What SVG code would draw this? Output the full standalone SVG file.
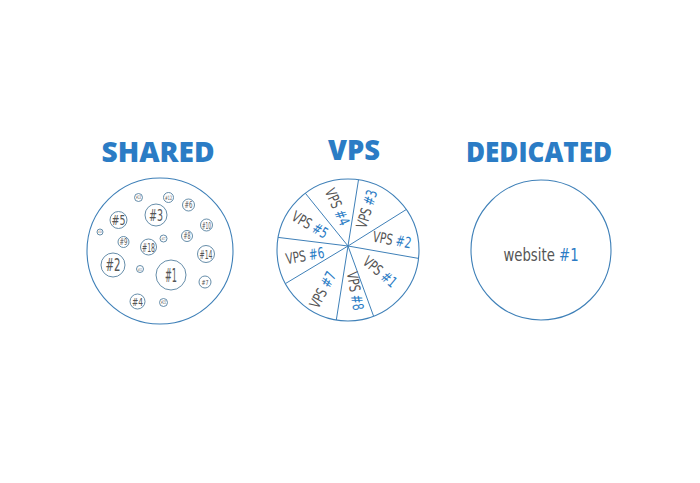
<svg xmlns="http://www.w3.org/2000/svg" width="700" height="483" viewBox="0 0 700 483">
<style>
.title{font-family:"Open Sans","DejaVu Sans",sans-serif;font-weight:800;font-size:28px;fill:#2b7cc5;text-anchor:middle}
.big{fill:none;stroke:#3f80b8;stroke-width:1.1}
.sm{fill:none;stroke:#55809f;stroke-width:0.9}
.hw{font-family:"DejaVu Sans Condensed","Liberation Sans Narrow","DejaVu Sans",sans-serif;fill:#555;text-anchor:middle}
.b{fill:#2b7cc5}
.spoke{stroke:#3f80b8;stroke-width:1}
</style>
<rect width="700" height="483" fill="#fff"/>

<g id="shared">
<text class="title" x="158" y="162" textLength="113" lengthAdjust="spacingAndGlyphs">SHARED</text>
<circle class="big" cx="160" cy="251" r="73"/>
<g class="hw">
<circle class="sm" cx="171" cy="275" r="15"/><text x="171" y="282" font-size="20" textLength="12" lengthAdjust="spacingAndGlyphs">#1</text>
<circle class="sm" cx="113" cy="265" r="12"/><text x="113" y="271" font-size="17" textLength="15" lengthAdjust="spacingAndGlyphs">#2</text>
<circle class="sm" cx="156" cy="215" r="11"/><text x="156" y="220.5" font-size="15" textLength="14" lengthAdjust="spacingAndGlyphs">#3</text>
<circle class="sm" cx="137.5" cy="301.5" r="7.5"/><text x="137.5" y="305.5" font-size="11" textLength="11" lengthAdjust="spacingAndGlyphs">#4</text>
<circle class="sm" cx="118.5" cy="220" r="8.5"/><text x="118.5" y="225" font-size="14" textLength="14" lengthAdjust="spacingAndGlyphs">#5</text>
<circle class="sm" cx="188.5" cy="205" r="6"/><text x="188.5" y="208" font-size="8" textLength="8" lengthAdjust="spacingAndGlyphs">#6</text>
<circle class="sm" cx="205" cy="282" r="6"/><text x="205" y="284.5" font-size="7" textLength="7" lengthAdjust="spacingAndGlyphs">#7</text>
<circle class="sm" cx="187" cy="236" r="5.5"/><text x="187" y="239" font-size="8" textLength="7" lengthAdjust="spacingAndGlyphs">#8</text>
<circle class="sm" cx="123.5" cy="242" r="5.5"/><text x="123.5" y="245" font-size="8" textLength="8" lengthAdjust="spacingAndGlyphs">#9</text>
<circle class="sm" cx="206.5" cy="225" r="6"/><text x="206.5" y="228.5" font-size="9" textLength="9" lengthAdjust="spacingAndGlyphs">#10</text>
<circle class="sm" cx="140" cy="269" r="3.5"/><text x="140" y="270.5" font-size="4" textLength="4" lengthAdjust="spacingAndGlyphs">#11</text>
<circle class="sm" cx="168.5" cy="197.5" r="5"/><text x="168.5" y="199.5" font-size="6" textLength="7" lengthAdjust="spacingAndGlyphs">#12</text>
<circle class="sm" cx="138.5" cy="197.5" r="4"/><text x="138.5" y="199.3" font-size="5" textLength="5" lengthAdjust="spacingAndGlyphs">#13</text>
<circle class="sm" cx="206" cy="254" r="8.5"/><text x="206" y="258.5" font-size="12" textLength="13" lengthAdjust="spacingAndGlyphs">#14</text>
<circle class="sm" cx="163.5" cy="302.5" r="4"/><text x="163.5" y="304.3" font-size="5" textLength="5" lengthAdjust="spacingAndGlyphs">#15</text>
<circle class="sm" cx="100" cy="232" r="3"/><text x="100" y="233.3" font-size="3.5" textLength="3.5" lengthAdjust="spacingAndGlyphs">#16</text>
<circle class="sm" cx="163.5" cy="238.5" r="3.5"/><text x="163.5" y="240" font-size="4" textLength="4" lengthAdjust="spacingAndGlyphs">#17</text>
<circle class="sm" cx="148.5" cy="247" r="8"/><text x="148.5" y="251.5" font-size="12" textLength="13" lengthAdjust="spacingAndGlyphs">#18</text>
</g>
</g>

<g id="vps">
<text class="title" x="354" y="160" textLength="52" lengthAdjust="spacingAndGlyphs">VPS</text>
<circle class="big" cx="348" cy="250" r="71"/>
<g class="spoke">
<line x1="348" y1="246" x2="358.5" y2="179.8"/>
<line x1="348" y1="246" x2="406.3" y2="209.5"/>
<line x1="348" y1="246" x2="418.5" y2="258.4"/>
<line x1="348" y1="246" x2="373.6" y2="316.2"/>
<line x1="348" y1="246" x2="336.3" y2="320"/>
<line x1="348" y1="246" x2="285.4" y2="283.6"/>
<line x1="348" y1="246" x2="278.1" y2="237.4"/>
<line x1="348" y1="246" x2="305.3" y2="193.2"/>
</g>
<g class="hw" font-size="15">
<text transform="translate(337,207) rotate(66) scale(0.78,1)" y="5">VPS <tspan class="b">#4</tspan></text>
<text transform="translate(367,209) rotate(-73) scale(0.78,1)" y="5">VPS <tspan class="b">#3</tspan></text>
<text transform="translate(392,240) rotate(10) scale(0.78,1)" y="5">VPS <tspan class="b">#2</tspan></text>
<text transform="translate(380,272) rotate(40) scale(0.78,1)" y="5">VPS <tspan class="b">#1</tspan></text>
<text transform="translate(355,291) rotate(80) scale(0.78,1)" y="5">VPS <tspan class="b">#8</tspan></text>
<text transform="translate(323,290) rotate(-62) scale(0.78,1)" y="5">VPS <tspan class="b">#7</tspan></text>
<text transform="translate(305,256) rotate(-10) scale(0.78,1)" y="5">VPS <tspan class="b">#6</tspan></text>
<text transform="translate(310,225) rotate(30) scale(0.78,1)" y="5">VPS <tspan class="b">#5</tspan></text>
</g>
</g>

<g id="dedicated">
<text class="title" x="539" y="162" textLength="146" lengthAdjust="spacingAndGlyphs">DEDICATED</text>
<circle class="big" cx="541" cy="250" r="70"/>
<text class="hw" transform="translate(541,261) scale(0.82,1)" font-size="18">website <tspan class="b">#1</tspan></text>
</g>
</svg>
